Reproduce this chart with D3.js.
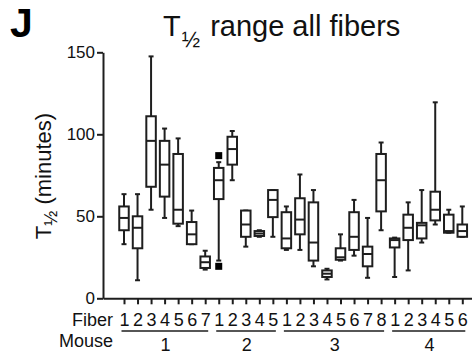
<!DOCTYPE html>
<html>
<head>
<meta charset="utf-8">
<script src="https://cdn.jsdelivr.net/npm/d3@7"></script>
<style>
  body { margin: 0; background: #fff; }
  svg { display: block; font-family: Arial, "Liberation Sans", sans-serif; }
</style>
</head>
<body>
<div id="app"></div>
<script>
// DATA
const mice = ['1', '2', '3', '4'];
const fibersPerMouse = [7, 5, 8, 6];
const whiskerLow  = [33, 11, 54, 49, 44, 33, 17.5, 23, 72, 31.5, 37.5, 37.5, 29.5, 29.5, 19.5, 11.5, 23, 26, 12.5, 41.5, 13, 17, 34, 45, 40, 37.5];
const q1          = [41.5, 30.5, 68, 62, 45.5, 33, 18.5, 60.5, 81.5, 37.5, 38, 49.5, 30.5, 39, 23, 13, 23.5, 29.5, 19.5, 53, 31, 35.5, 36.5, 47.5, 40, 37.5];
const median      = [49, 43, 96, 81.5, 54, 39, 22, 72, 91, 45, 39.5, 60, 36.5, 48, 34, 15, 25, 37.5, 27, 72, 35.5, 43, 44.5, 54, 41, 41];
const q3          = [56, 50, 111, 96, 88, 46.5, 25.5, 79.5, 98.5, 53.5, 41, 66, 52.5, 61, 58.5, 17, 30.5, 52.5, 31.5, 88, 36.5, 51, 46, 65, 51, 45];
const whiskerHigh = [63.5, 63.5, 147.5, 103.5, 97.5, 53.5, 29, 83, 102, 53.5, 41.5, 66, 56, 75.5, 66, 18, 39, 60, 49, 95, 37, 58.5, 66, 119.5, 54, 56];
// outliers: [box index, value]
const outliers = [[7, 87], [7, 19.5]];
const yTicks = [0, 50, 100, 150];

const width = 472, height = 354;
const ink = '#1e1e1e';

// build flat list of boxes
const boxes = [];
fibersPerMouse.forEach((n, m) => {
  for (let f = 0; f < n; f++) boxes.push({ mouse: m, fiber: f + 1 });
});
boxes.forEach((b, i) => {
  b.lo = whiskerLow[i]; b.q1 = q1[i]; b.med = median[i]; b.q3 = q3[i]; b.hi = whiskerHigh[i];
});

const step = 13.53;
const x = d3.scaleLinear()
  .domain([-21 / step, boxes.length - 1 + 9.7 / step])
  .range([103, 472]);
const y = d3.scaleLinear().domain([0, 150]).range([298.3, 52.3]);

const svg = d3.select('#app').append('svg')
  .attr('width', width)
  .attr('height', height);

svg.append('rect').attr('width', width).attr('height', height).attr('fill', '#fff');

// panel letter
svg.append('text')
  .attr('x', 10).attr('y', 36.5)
  .attr('font-size', 41).attr('font-weight', 'bold')
  .attr('fill', '#000')
  .text('J');

// title
const title = svg.append('text')
  .attr('x', 163).attr('y', 36)
  .attr('font-size', 29)
  .attr('fill', '#111');
title.append('tspan').text('T');
title.append('tspan').attr('font-size', 22).attr('dy', 11).attr('dx', 1).text('½');
title.append('tspan').attr('dy', -11).attr('dx', 2).text(' range all fibers');

// y label
const ylab = svg.append('text')
  .attr('transform', 'translate(51,176) rotate(-90)')
  .attr('text-anchor', 'middle')
  .attr('font-size', 22)
  .attr('fill', '#111');
ylab.append('tspan').text('T');
ylab.append('tspan').attr('font-size', 18).attr('dy', 6).text('½');
ylab.append('tspan').attr('dy', -6).text(' (minutes)');

// y axis
const yAxis = svg.append('g')
  .attr('transform', 'translate(103,0)')
  .call(d3.axisLeft(y).tickValues(yTicks).tickSize(6).tickSizeOuter(0));
yAxis.selectAll('path, line').attr('stroke', ink).attr('stroke-width', 2);
yAxis.selectAll('text').attr('font-size', 17).attr('fill', '#111').attr('x', -8)
  .attr('font-family', 'Arial, "Liberation Sans", sans-serif');

// x axis with fiber numbers
const xAxis = svg.append('g')
  .attr('transform', `translate(0,${y(0)})`)
  .call(d3.axisBottom(x).tickValues(d3.range(boxes.length)).tickSize(6).tickSizeOuter(0)
    .tickFormat(i => boxes[i].fiber));
xAxis.selectAll('path, line').attr('stroke', ink).attr('stroke-width', 2);
xAxis.selectAll('text')
  .attr('font-size', 18).attr('fill', '#111').attr('dy', null).attr('y', 27.3)
  .attr('font-family', 'Arial, "Liberation Sans", sans-serif');

svg.append('text')
  .attr('x', 113).attr('y', 325.6)
  .attr('text-anchor', 'end').attr('font-size', 18).attr('fill', '#111')
  .text('Fiber');
svg.append('text')
  .attr('x', 113).attr('y', 346.5)
  .attr('text-anchor', 'end').attr('font-size', 18).attr('fill', '#111')
  .text('Mouse');

// mouse groups
let start = 0;
const groups = fibersPerMouse.map((n, m) => {
  const g = { name: mice[m], first: start, last: start + n - 1 };
  start += n;
  return g;
});
svg.append('g').selectAll('line')
  .data(groups).enter().append('line')
  .attr('x1', d => x(d.first) - 2.5)
  .attr('x2', d => Math.min(x(d.last) + 3, 470))
  .attr('y1', 331).attr('y2', 331)
  .attr('stroke', ink).attr('stroke-width', 1.5);
svg.append('g').selectAll('text')
  .data(groups).enter().append('text')
  .attr('x', d => (x(d.first) + x(d.last)) / 2 + 1)
  .attr('y', 351)
  .attr('text-anchor', 'middle').attr('font-size', 18).attr('fill', '#111')
  .text(d => d.name);

// box plots
const boxW = 9.5, capW = 5;
const bp = svg.append('g')
  .selectAll('g')
  .data(boxes)
  .enter()
  .append('g')
    .attr('transform', (d, i) => `translate(${x(i)},0)`);

bp.append('line')
  .attr('x1', 0).attr('x2', 0)
  .attr('y1', d => y(d.hi)).attr('y2', d => y(d.lo))
  .attr('stroke', ink).attr('stroke-width', 2);
bp.append('line')
  .attr('x1', -capW / 2).attr('x2', capW / 2)
  .attr('y1', d => y(d.hi)).attr('y2', d => y(d.hi))
  .attr('stroke', ink).attr('stroke-width', 2);
bp.append('line')
  .attr('x1', -capW / 2).attr('x2', capW / 2)
  .attr('y1', d => y(d.lo)).attr('y2', d => y(d.lo))
  .attr('stroke', ink).attr('stroke-width', 2);
bp.append('rect')
  .attr('x', -boxW / 2).attr('width', boxW)
  .attr('y', d => y(d.q3))
  .attr('height', d => Math.max(y(d.q1) - y(d.q3), 1))
  .attr('fill', '#fff')
  .attr('stroke', ink).attr('stroke-width', 2);
bp.append('line')
  .attr('x1', -boxW / 2).attr('x2', boxW / 2)
  .attr('y1', d => y(d.med)).attr('y2', d => y(d.med))
  .attr('stroke', ink).attr('stroke-width', 2);

// outliers
svg.append('g').selectAll('rect')
  .data(outliers).enter().append('rect')
  .attr('x', d => x(d[0]) - 3.5)
  .attr('y', d => y(d[1]) - 3.5)
  .attr('width', 7).attr('height', 7)
  .attr('fill', '#000');
</script>
</body>
</html>
